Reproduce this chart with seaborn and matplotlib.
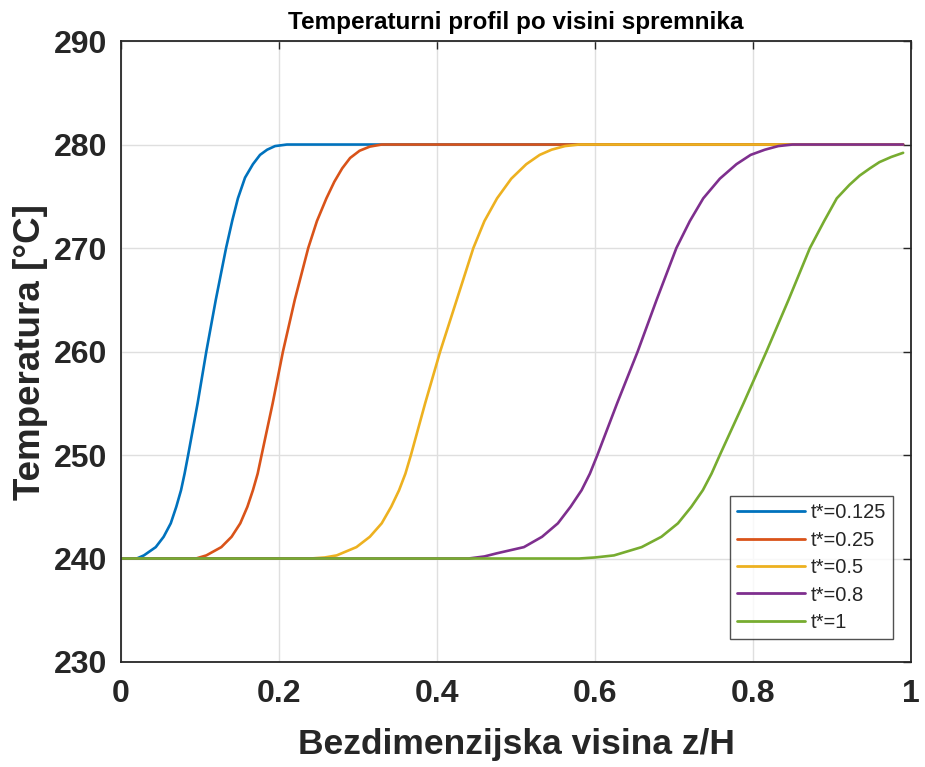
"""
Temperaturni profil po visini spremnika - recreated with seaborn
"""

import matplotlib
matplotlib.use("Agg")
import matplotlib.pyplot as plt
import seaborn as sns
import pandas as pd

# Values
labels = ['t*=0.125', 't*=0.25', 't*=0.5', 't*=0.8', 't*=1']

z_0125 = [0, 0.02, 0.029, 0.044, 0.054, 0.063, 0.070, 0.076, 0.0805, 0.085,
          0.097, 0.108, 0.12, 0.133, 0.141, 0.148, 0.157, 0.167, 0.176,
          0.185, 0.195, 0.21, 0.25, 0.99]
T_0125 = [240, 240, 240.3, 241.1, 242.1, 243.4, 245, 246.6, 248.2, 250,
          255, 260, 265, 270, 272.7, 274.8, 276.8, 278.1, 279.0,
          279.5, 279.85, 280, 280, 280]

z_025 = [0, 0.095, 0.108, 0.127, 0.14, 0.151, 0.16, 0.167, 0.173, 0.178,
         0.192, 0.205, 0.22, 0.237, 0.248, 0.26, 0.27, 0.28, 0.29, 0.302,
         0.315, 0.33, 0.4, 0.99]
T_025 = [240, 240, 240.3, 241.1, 242.1, 243.4, 245, 246.6, 248.2, 250,
         255, 260, 265, 270, 272.6, 274.8, 276.4, 277.7, 278.7, 279.4,
         279.8, 280, 280, 280]

z_05 = [0, 0.24, 0.258, 0.273, 0.298, 0.315, 0.33, 0.342, 0.352, 0.36,
        0.367, 0.385, 0.404, 0.425, 0.446, 0.46, 0.476, 0.494, 0.513,
        0.53, 0.545, 0.562, 0.58, 0.65, 0.99]
T_05 = [240, 240, 240.1, 240.3, 241.1, 242.1, 243.4, 245, 246.6, 248.2,
        250, 255, 260, 265, 270, 272.6, 274.8, 276.7, 278.1,
        279.0, 279.5, 279.85, 280, 280, 280]

z_08 = [0, 0.44, 0.46, 0.4756, 0.51, 0.533, 0.553, 0.569, 0.583, 0.5935,
        0.603, 0.628, 0.654, 0.678, 0.703, 0.72, 0.737, 0.758, 0.779,
        0.797, 0.815, 0.832, 0.85, 0.9, 0.99]
T_08 = [240, 240, 240.2, 240.5, 241.1, 242.1, 243.4, 245, 246.6, 248.2,
        250, 255, 260, 265, 270, 272.6, 274.8, 276.7, 278.1,
        279.0, 279.5, 279.85, 280, 280, 280]

z_1 = [0, 0.58, 0.6, 0.624, 0.659, 0.684, 0.705, 0.722, 0.7365, 0.7475,
       0.758, 0.788, 0.817, 0.845, 0.872, 0.89, 0.906, 0.922, 0.935,
       0.948, 0.96, 0.975, 0.99]
T_1 = [240, 240, 240.1, 240.3, 241.1, 242.1, 243.4, 245, 246.6, 248.2,
       250, 255, 260, 265, 270, 272.6, 274.8, 276.1, 277,
       277.7, 278.3, 278.8, 279.2]

x_ticks = [0, 0.2, 0.4, 0.6, 0.8, 1]
x_ticklabels = ['0', '0.2', '0.4', '0.6', '0.8', '1']
y_ticks = [230, 240, 250, 260, 270, 280, 290]

# MATLAB default line colours
colors = ['#0072BD', '#D95319', '#EDB120', '#7E2F8E', '#77AC30']

# Long-form table for seaborn
frames = []
for lab, z, T in zip(labels, [z_0125, z_025, z_05, z_08, z_1],
                     [T_0125, T_025, T_05, T_08, T_1]):
    frames.append(pd.DataFrame({'z': z, 'T': T, 'krivulja': lab}))
df = pd.concat(frames, ignore_index=True)

sns.set_style('white')
plt.rcParams['font.family'] = ['Liberation Sans', 'DejaVu Sans']

fig = plt.figure(figsize=(9.25, 7.67), dpi=100)
ax = fig.add_axes([0.1308, 0.1369, 0.8541, 0.8096])

sns.lineplot(data=df, x='z', y='T', hue='krivulja', hue_order=labels,
             palette=colors, estimator=None, sort=False, linewidth=1.9, ax=ax)

ax.set_xlim(0, 1)
ax.set_ylim(230, 290)
ax.set_xticks(x_ticks)
ax.set_xticklabels(x_ticklabels)
ax.set_yticks(y_ticks)

ax.grid(True, color='#DFDFDF', linewidth=1.0)
ax.set_axisbelow(True)
for s in ax.spines.values():
    s.set_color('#262626')
    s.set_linewidth(1.3)

ax.tick_params(axis='both', direction='in', length=6, width=1.0,
               color='#262626', top=True, right=True, labelsize=23,
               labelcolor='#262626')
ax.tick_params(axis='x', pad=12)
ax.tick_params(axis='y', pad=10)
for lbl in ax.get_xticklabels() + ax.get_yticklabels():
    lbl.set_fontweight('bold')

ax.set_xlabel('Bezdimenzijska visina z/H', fontsize=25.5, fontweight='bold',
              color='#262626', labelpad=14)
ax.set_ylabel('Temperatura [°C]', fontsize=26.5, fontweight='bold',
              color='#262626', labelpad=4)
ax.set_title('Temperaturni profil po visini spremnika', fontsize=17.5,
             fontweight='bold', color='#000000', pad=9)

leg = ax.legend(loc='lower right', bbox_to_anchor=(0.977, 0.037),
                borderaxespad=0, fontsize=14.5, handlelength=3.4,
                handletextpad=0.25, labelspacing=0.42, frameon=True,
                fancybox=False, borderpad=0.35)
leg.get_frame().set_edgecolor('#262626')
leg.get_frame().set_linewidth(1.0)
for line in leg.get_lines():
    line.set_linewidth(2.0)

fig.savefig('out.png', dpi=100)
